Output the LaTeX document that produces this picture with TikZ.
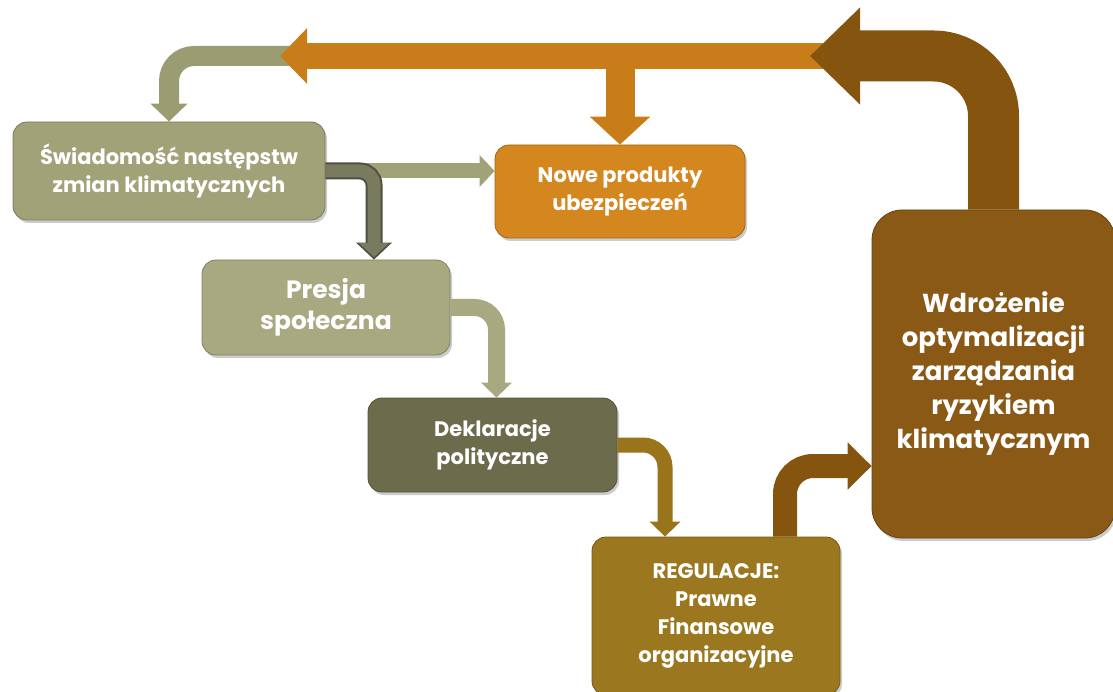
\documentclass[tikz,border=0pt]{standalone}
\usepackage{fontspec}
\setmainfont{Poppins}
\usetikzlibrary{arrows.meta,shadows}
\definecolor{sageBox}{HTML}{A2A279}
\definecolor{sageLight}{HTML}{A8A981}
\definecolor{oliveDark}{HTML}{6C6C4D}
\definecolor{orangeBox}{HTML}{D4871F}
\definecolor{goldBox}{HTML}{9B781F}
\definecolor{brownBox}{HTML}{8A5915}
\definecolor{brownArrow}{HTML}{85540F}
\definecolor{orangeArrow}{HTML}{C97D19}
\definecolor{sageArrow}{HTML}{9A9C72}
\definecolor{greyArrow}{HTML}{7A7A5F}
\definecolor{greyEdge}{HTML}{4F4F42}
\definecolor{goldArrow}{HTML}{99741A}

\begin{document}
\begin{tikzpicture}[x=1pt,y=-1pt,
  box/.style={fill=#1, draw=#1!75!black, line width=.8pt, rounded corners=14pt,
    text=white, align=center, inner sep=0pt,
    font=\bfseries\fontsize{21}{28}\selectfont,
    drop shadow={shadow xshift=2pt,shadow yshift=-3pt,opacity=.4}},
  flow/.style n args={3}{line width=#1, -{Triangle[width=#2,length=#3]}}]
  \useasboundingbox (0,0) rectangle (1113,692);
  % Boxes
  \node[box=sageBox, minimum width=312pt, minimum height=98pt] (s1) at (169,171)
    {Świadomość następstw\\zmian klimatycznych};
  \node[box=orangeBox, minimum width=250pt, minimum height=93pt] (s2) at (620,191.5)
    {Nowe produkty\\ubezpieczeń};
  \node[box=sageLight, minimum width=248pt, minimum height=95pt,
    font=\bfseries\fontsize{25}{31}\selectfont] (s3) at (326,307.5)
    {Presja\\społeczna};
  \node[box=oliveDark, minimum width=249pt, minimum height=94pt] (s4) at (492.5,445)
    {Deklaracje\\polityczne};
  \node[box=goldBox, minimum width=248pt, minimum height=158pt] (s5) at (716,616)
    {REGULACJE:\\Prawne\\Finansowe\\organizacyjne};
  \node[box=brownBox, minimum width=243pt, minimum height=328pt, rounded corners=30pt,
    font=\bfseries\fontsize{26}{34}\selectfont] (s6) at (993.5,374)
    {Wdrożenie\\optymalizacji\\zarządzania\\ryzykiem\\klimatycznym};
  % Top feedback line
  \coordinate (top) at (810,56);
  \coordinate (topL) at (280,56);
  \draw[flow={20pt}{36pt}{18pt}, sageArrow, rounded corners=25pt]
    ([xshift=20pt]topL) -| (s1.north);
  \draw[flow={26pt}{54pt}{27pt}, orangeArrow] ([xshift=30pt]top) -- (topL);
  \draw[flow={29pt}{59pt}{28pt}, orangeArrow] (s2.north |- top) -- (s2.north);
  \draw[flow={51pt}{94pt}{50pt}, brownArrow, rounded corners=60pt] (s6.north) |- (top);
  % Chain of boxes
  \draw[flow={15pt}{31pt}{15pt}, sageBox] (s1.east) -- (s1.east -| s2.west);
  \draw[flow={17pt}{35pt}{17pt}, greyEdge, rounded corners=14pt]
    (s1.east) -| ([xshift=48pt]s3.north);
  \draw[flow={13pt}{29pt}{14pt}, greyArrow, rounded corners=14pt, shorten >=2.5pt]
    (s1.east) -| ([xshift=48pt]s3.north);
  \draw[flow={17pt}{30pt}{15pt}, sageLight, rounded corners=22pt]
    (s3.east) -| ([xshift=4pt]s4.north);
  \draw[flow={15pt}{30pt}{15pt}, goldArrow, rounded corners=22pt]
    (s4.east) -| ([xshift=-51pt]s5.north);
  \draw[flow={24pt}{46pt}{24pt}, brownArrow, rounded corners=28pt]
    ([xshift=69pt]s5.north) |- ([yshift=-92pt]s6.west);
\end{tikzpicture}
\end{document}
